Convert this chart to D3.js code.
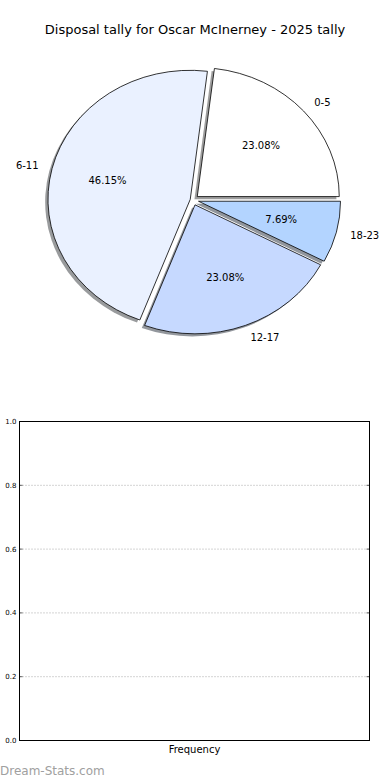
<!DOCTYPE html>
<html>
<head>
<meta charset="utf-8">
<script src="https://cdn.jsdelivr.net/npm/d3@7"></script>
<style>
  html, body { margin: 0; padding: 0; background: #fff; }
  svg { display: block; }
  text { font-family: "DejaVu Sans", sans-serif; }
</style>
</head>
<body>
<div id="chart"></div>
<script>
const titleText = "Disposal tally for Oscar McInerney - 2025 tally";
const categories = ["0-5", "6-11", "12-17", "18-23"];
const counts = [3, 6, 3, 1];
const sliceColors = ["#ffffff", "#eaf1ff", "#c6d9ff", "#b3d4ff"];
const explode = [0.04, 0.02, 0.04, 0.04];
const yTicks = [0.0, 0.2, 0.4, 0.6, 0.8, 1.0];
const xLabel = "Frequency";
const watermark = "Dream-Stats.com";

const W = 390, H = 780;
const svg = d3.select("#chart").append("svg").attr("width", W).attr("height", H);

svg.append("text").attr("x", 195).attr("y", 34).attr("text-anchor", "middle")
  .attr("font-size", 13).attr("fill", "#000").text(titleText);

// Pie (elliptical, matplotlib style: start at 3 o'clock, counter-clockwise)
const cx = 193, cy = 200, rx = 142, ry = 129;
const total = d3.sum(counts);
const pie = d3.pie().sort(null).startAngle(Math.PI / 2).endAngle(Math.PI / 2 - 2 * Math.PI);
const arcs = pie(counts);
const unitArc = d3.arc().innerRadius(0).outerRadius(1);

const pieG = svg.append("g");
arcs.forEach((a, i) => {
  const mid = (a.startAngle + a.endAngle) / 2;
  const ux = Math.sin(mid), uy = -Math.cos(mid);
  a.ox = cx + ux * explode[i] * rx; a.oy = cy + uy * explode[i] * ry;
  a.ux = ux; a.uy = uy;
});
// shadows
arcs.forEach((a, i) => {
  const c = d3.rgb(sliceColors[i]);
  pieG.append("path")
    .attr("transform", `translate(${a.ox - 2.8},${a.oy + 2.6}) scale(${rx},${ry})`)
    .attr("d", unitArc(a))
    .attr("fill", d3.rgb(c.r * 0.3, c.g * 0.3, c.b * 0.3))
    .attr("fill-opacity", 0.55)
    .attr("stroke", "none");
});
// slices
arcs.forEach((a, i) => {
  pieG.append("path")
    .attr("transform", `translate(${a.ox},${a.oy}) scale(${rx},${ry})`)
    .attr("d", unitArc(a))
    .attr("fill", sliceColors[i])
    .attr("stroke", "#000")
    .attr("stroke-width", 0.8)
    .attr("vector-effect", "non-scaling-stroke")
    .attr("stroke-linejoin", "miter");
});
// labels
arcs.forEach((a, i) => {
  const lx = a.ox + a.ux * 1.1 * rx, ly = a.oy + a.uy * 1.1 * ry;
  pieG.append("text").attr("x", lx).attr("y", ly).attr("dy", "0.35em")
    .attr("text-anchor", a.ux > 0 ? "start" : "end")
    .attr("font-size", 10).attr("fill", "#000").text(categories[i]);
  const px = a.ox + a.ux * 0.6 * rx, py = a.oy + a.uy * 0.6 * ry;
  pieG.append("text").attr("x", px).attr("y", py).attr("dy", "0.35em")
    .attr("text-anchor", "middle")
    .attr("font-size", 10).attr("fill", "#000")
    .text((counts[i] / total * 100).toFixed(2) + "%");
});

// Empty frequency axes
const x0 = 19.5, x1 = 369.5, y0 = 740.5, y1 = 421.5;
const y = d3.scaleLinear().domain([0, 1]).range([y0, y1]);
const axG = svg.append("g");
axG.selectAll("line.grid").data(yTicks).join("line").attr("class", "grid")
  .attr("x1", x0).attr("x2", x1).attr("y1", d => y(d)).attr("y2", d => y(d))
  .attr("stroke", "#a8a8a8").attr("stroke-width", 1).attr("stroke-dasharray", "1,2");
axG.selectAll("line.tickl").data(yTicks).join("line").attr("class", "tickl")
  .attr("x1", x0).attr("x2", x0 + 3).attr("y1", d => y(d)).attr("y2", d => y(d))
  .attr("stroke", "#000").attr("stroke-width", 0.6);
axG.selectAll("line.tickr").data(yTicks).join("line").attr("class", "tickr")
  .attr("x1", x1 - 3).attr("x2", x1).attr("y1", d => y(d)).attr("y2", d => y(d))
  .attr("stroke", "#000").attr("stroke-width", 0.6);
axG.append("rect").attr("x", x0).attr("y", y1).attr("width", x1 - x0).attr("height", y0 - y1)
  .attr("fill", "none").attr("stroke", "#000").attr("stroke-width", 1);
axG.selectAll("text.ytick").data(yTicks).join("text").attr("class", "ytick")
  .attr("x", x0 - 3).attr("y", d => y(d)).attr("dy", "0.35em")
  .attr("text-anchor", "end").attr("font-size", 7).attr("fill", "#000")
  .text(d => d.toFixed(1));
axG.append("text").attr("x", (x0 + x1) / 2).attr("y", 753).attr("text-anchor", "middle")
  .attr("font-size", 10).attr("fill", "#000").text(xLabel);

svg.append("text").attr("x", 0).attr("y", 775).attr("font-size", 12)
  .attr("fill", "#a0a0a0").text(watermark);
</script>
</body>
</html>
